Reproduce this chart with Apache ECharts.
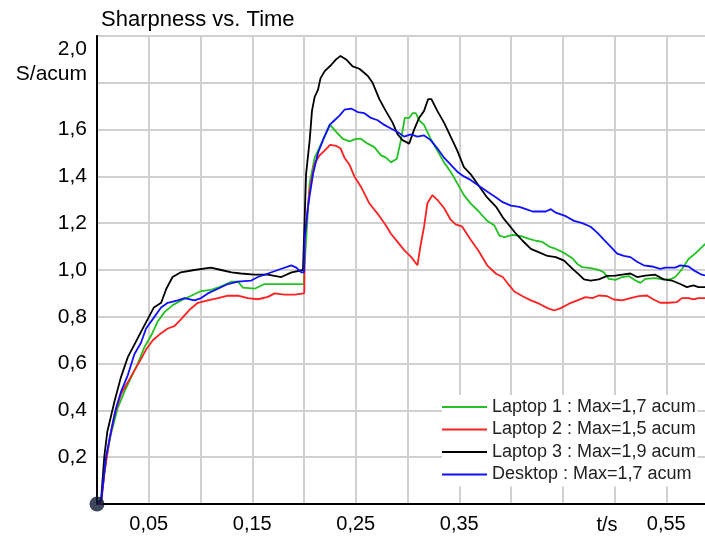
<!DOCTYPE html>
<html>
<head>
<meta charset="utf-8">
<script src="https://cdn.jsdelivr.net/npm/echarts@6/dist/echarts.min.js"></script>
<style>
  html, body { margin: 0; padding: 0; background: #fff; }
  #main { width: 705px; height: 536px; }
</style>
</head>
<body>
<div id="main"></div>
<script>
// tick labels shown on the axes
var xLabelValues = [0.05, 0.15, 0.25, 0.35, 0.55];
var yLabelValues = [0.2, 0.4, 0.6, 0.8, 1.0, 1.2, 1.4, 1.6];

var seriesNames = [
  'Laptop 1 : Max=1,7 acum',
  'Laptop 2 : Max=1,5 acum',
  'Laptop 3 : Max=1,9 acum',
  'Desktop : Max=1,7 acum'
];

// [t (s), sharpness (acum)]
var laptop1 = [
  [0, 0], [0.004, 0.014], [0.0087, 0.19], [0.0135, 0.30], [0.02, 0.41], [0.0265, 0.48],
  [0.0329, 0.54], [0.0394, 0.60], [0.0458, 0.67], [0.0523, 0.72], [0.0587, 0.78],
  [0.0652, 0.82], [0.0732, 0.85], [0.0813, 0.87], [0.091, 0.89], [0.1006, 0.91],
  [0.1103, 0.915], [0.12, 0.93], [0.1297, 0.95], [0.1361, 0.95], [0.141, 0.925],
  [0.1523, 0.92], [0.1619, 0.94], [0.1748, 0.94], [0.2, 0.94],
  [0.2003, 1.0], [0.2054, 1.37], [0.2103, 1.48], [0.2151, 1.525], [0.2199, 1.57],
  [0.2253, 1.62], [0.2311, 1.59], [0.2375, 1.56], [0.2439, 1.55], [0.2503, 1.56],
  [0.2551, 1.56], [0.2615, 1.54], [0.2679, 1.525], [0.2744, 1.49], [0.2792, 1.48],
  [0.284, 1.46], [0.2897, 1.475], [0.2936, 1.555], [0.2974, 1.65], [0.3016, 1.65],
  [0.3048, 1.67], [0.308, 1.67], [0.3112, 1.64], [0.316, 1.62], [0.3224, 1.56],
  [0.3288, 1.51], [0.3353, 1.46], [0.3417, 1.42], [0.3481, 1.37], [0.3545, 1.32],
  [0.3609, 1.285], [0.3689, 1.25], [0.3769, 1.21], [0.384, 1.19], [0.3888, 1.147],
  [0.3936, 1.14], [0.4016, 1.15], [0.4096, 1.145], [0.4176, 1.133], [0.424, 1.125],
  [0.4304, 1.12], [0.4369, 1.10], [0.4433, 1.09], [0.4513, 1.073], [0.4593, 1.05],
  [0.4641, 1.026], [0.4689, 1.012], [0.4769, 1.008], [0.4849, 1.0], [0.4897, 0.99],
  [0.4945, 0.962], [0.501, 0.958], [0.5074, 0.97], [0.5138, 0.974], [0.5202, 0.955],
  [0.525, 0.945], [0.5298, 0.962], [0.5394, 0.965], [0.5458, 0.96], [0.5538, 0.96],
  [0.5587, 0.97], [0.5651, 1.003], [0.5715, 1.047], [0.5779, 1.07], [0.5859, 1.104],
  [0.59, 1.12]
];

var laptop2 = [
  [0, 0], [0.004, 0.0], [0.0071, 0.13], [0.0119, 0.27], [0.0168, 0.38], [0.0232, 0.47],
  [0.0297, 0.52], [0.0361, 0.57], [0.0426, 0.62], [0.0474, 0.66], [0.0539, 0.70],
  [0.0619, 0.73], [0.0684, 0.75], [0.0748, 0.76], [0.0813, 0.79], [0.0894, 0.83],
  [0.0974, 0.86], [0.1071, 0.87], [0.1168, 0.88], [0.1265, 0.89], [0.1361, 0.89],
  [0.1458, 0.88], [0.1555, 0.875], [0.1652, 0.885], [0.1716, 0.90], [0.1813, 0.895],
  [0.191, 0.895], [0.2, 0.90],
  [0.2003, 0.91], [0.2006, 1.13], [0.2054, 1.34], [0.2103, 1.455], [0.2151, 1.49],
  [0.2199, 1.51], [0.2253, 1.535], [0.2311, 1.53], [0.2353, 1.52], [0.2391, 1.48],
  [0.2439, 1.45], [0.2487, 1.40], [0.2551, 1.355], [0.2631, 1.285], [0.2712, 1.24],
  [0.2792, 1.19], [0.284, 1.155], [0.2904, 1.12], [0.2968, 1.085], [0.3032, 1.057],
  [0.3096, 1.02], [0.3128, 1.11], [0.316, 1.185], [0.3192, 1.285], [0.324, 1.32],
  [0.3288, 1.30], [0.3353, 1.265], [0.3417, 1.215], [0.3465, 1.195], [0.3529, 1.185],
  [0.3609, 1.13], [0.3689, 1.08], [0.3769, 1.02], [0.3856, 0.984], [0.392, 0.97],
  [0.3984, 0.934], [0.4032, 0.908], [0.4112, 0.888], [0.4192, 0.87], [0.4272, 0.856],
  [0.4353, 0.837], [0.4417, 0.827], [0.4481, 0.837], [0.4561, 0.856], [0.4641, 0.87],
  [0.4721, 0.884], [0.4785, 0.88], [0.4849, 0.891], [0.4929, 0.888], [0.4994, 0.874],
  [0.5074, 0.87], [0.5154, 0.88], [0.5234, 0.888], [0.5314, 0.891], [0.5378, 0.874],
  [0.5442, 0.86], [0.5522, 0.86], [0.5603, 0.863], [0.5651, 0.88], [0.5715, 0.88],
  [0.5763, 0.874], [0.5811, 0.88], [0.59, 0.88]
];

var laptop3 = [
  [0, 0], [0.004, 0.02], [0.007, 0.20], [0.010, 0.31], [0.017, 0.44], [0.023, 0.54],
  [0.030, 0.63], [0.036, 0.68], [0.043, 0.74], [0.049, 0.79], [0.055, 0.84],
  [0.062, 0.86], [0.067, 0.92], [0.073, 0.97], [0.081, 0.99], [0.094, 1.00],
  [0.110, 1.01], [0.120, 1.00], [0.130, 0.99], [0.139, 0.985], [0.152, 0.98],
  [0.165, 0.98], [0.178, 0.97], [0.188, 0.99], [0.199, 1.00],
  [0.2005, 1.2], [0.202, 1.41], [0.2055, 1.555], [0.2077, 1.68], [0.2103, 1.74],
  [0.2135, 1.77], [0.216, 1.82], [0.220, 1.85], [0.226, 1.875], [0.231, 1.90],
  [0.2353, 1.915], [0.2407, 1.90], [0.247, 1.87], [0.2535, 1.86], [0.2615, 1.83],
  [0.2663, 1.80], [0.2728, 1.73], [0.279, 1.68], [0.2856, 1.63], [0.2904, 1.58],
  [0.2952, 1.555], [0.3016, 1.54], [0.3064, 1.60], [0.3112, 1.65], [0.316, 1.68],
  [0.3199, 1.73], [0.3231, 1.73], [0.3288, 1.68], [0.3353, 1.63], [0.3417, 1.57],
  [0.3481, 1.51], [0.3545, 1.44], [0.3609, 1.41], [0.3689, 1.36], [0.3769, 1.31],
  [0.3856, 1.27], [0.392, 1.225], [0.3984, 1.19], [0.4048, 1.155], [0.4112, 1.125],
  [0.4192, 1.09], [0.4272, 1.075], [0.4353, 1.06], [0.4433, 1.055], [0.4513, 1.04],
  [0.4593, 1.006], [0.4657, 0.98], [0.4705, 0.96], [0.4769, 0.955], [0.4849, 0.96],
  [0.4929, 0.975], [0.5010, 0.976], [0.5074, 0.98], [0.5154, 0.985], [0.5218, 0.97],
  [0.5298, 0.976], [0.5394, 0.98], [0.5474, 0.96], [0.5554, 0.955], [0.5635, 0.94],
  [0.5699, 0.927], [0.5763, 0.934], [0.5811, 0.927], [0.59, 0.927]
];

var desktop = [
  [0, 0], [0.004, 0.014], [0.0087, 0.20], [0.0135, 0.31], [0.0184, 0.41], [0.0232, 0.48],
  [0.0297, 0.55], [0.0361, 0.64], [0.0426, 0.69], [0.0474, 0.75], [0.0539, 0.79],
  [0.0619, 0.84], [0.0684, 0.86], [0.0781, 0.87], [0.0845, 0.88], [0.0942, 0.87],
  [0.1006, 0.88], [0.1071, 0.90], [0.1168, 0.92], [0.1265, 0.94], [0.1361, 0.95],
  [0.149, 0.955], [0.1555, 0.97], [0.1652, 0.985], [0.1748, 1.0], [0.1877, 1.02],
  [0.1926, 1.01], [0.1974, 0.99], [0.2, 0.99],
  [0.2006, 1.13], [0.2038, 1.27], [0.2087, 1.41], [0.2135, 1.50], [0.2183, 1.555],
  [0.2247, 1.62], [0.2295, 1.64], [0.2343, 1.66], [0.2391, 1.685], [0.2455, 1.69],
  [0.2519, 1.675], [0.2583, 1.67], [0.2647, 1.65], [0.2712, 1.64], [0.2776, 1.62],
  [0.284, 1.605], [0.2904, 1.59], [0.2968, 1.57], [0.3032, 1.58], [0.3096, 1.57],
  [0.316, 1.575], [0.3224, 1.555], [0.3288, 1.52], [0.3353, 1.48], [0.3417, 1.45],
  [0.3481, 1.42], [0.3545, 1.40], [0.3609, 1.385], [0.3689, 1.36], [0.3769, 1.335],
  [0.3856, 1.31], [0.392, 1.29], [0.4, 1.275], [0.408, 1.27], [0.4144, 1.26],
  [0.4208, 1.25], [0.4337, 1.25], [0.4385, 1.26], [0.4433, 1.245], [0.4529, 1.23],
  [0.4609, 1.21], [0.4689, 1.20], [0.4769, 1.185], [0.4833, 1.16], [0.4897, 1.13],
  [0.4962, 1.10], [0.5026, 1.07], [0.509, 1.06], [0.5154, 1.055], [0.5218, 1.035],
  [0.5282, 1.02], [0.5362, 1.015], [0.5442, 1.005], [0.549, 1.01], [0.5587, 1.01],
  [0.5635, 1.02], [0.5715, 1.015], [0.5779, 0.995], [0.5843, 0.98], [0.59, 0.975]
];

var seriesColors = ['#22c222', '#ff2020', '#000000', '#1010ff'];
var font = '"Liberation Sans", Arial, sans-serif';

function fmtComma(v, digits) {
  return v.toFixed(digits).replace('.', ',');
}
function hasValue(list, v) {
  for (var i = 0; i < list.length; i++) {
    if (Math.abs(list[i] - v) < 1e-6) return true;
  }
  return false;
}

var chart = echarts.init(document.getElementById('main'), null, { renderer: 'canvas' });

var lineData = [laptop1, laptop2, laptop3, desktop];
var series = lineData.map(function (d, i) {
  return {
    name: seriesNames[i],
    type: 'line',
    data: d,
    showSymbol: false,
    symbol: 'none',
    lineStyle: { width: 1.8, color: seriesColors[i] },
    itemStyle: { color: seriesColors[i] },
    animation: false
  };
});
// dot at the origin
series.push({
  type: 'scatter',
  data: [[0, 0]],
  symbolSize: 15,
  clip: false,
  itemStyle: { color: '#0c1a33' },
  z: 10,
  silent: true,
  animation: false
});

var option = {
  backgroundColor: '#fff',
  animation: false,
  title: {
    text: 'Sharpness vs. Time',
    left: 101,
    top: 9,
    padding: 0,
    textStyle: { fontFamily: font, fontSize: 22, fontWeight: 'normal', color: '#000' }
  },
  grid: {
    left: 97,
    top: 36,
    width: 621,
    height: 468,
    containLabel: false,
    outerBoundsMode: 'none',
    show: true,
    borderColor: '#000',
    borderWidth: 1.5
  },
  legend: {
    orient: 'vertical',
    left: 442,
    top: 395,
    padding: [3, 2, 3, 0],
    backgroundColor: '#fff',
    icon: 'rect',
    itemWidth: 45,
    itemHeight: 2,
    itemGap: 4.5,
    data: seriesNames,
    textStyle: { fontFamily: font, fontSize: 18, color: '#222' }
  },
  xAxis: {
    type: 'value',
    min: 0,
    max: 0.6,
    interval: 0.05,
    axisLine: { lineStyle: { color: '#000', width: 2 } },
    axisTick: { show: false },
    splitLine: { lineStyle: { color: '#d0d0d0', width: 2 } },
    axisLabel: {
      margin: 10,
      fontFamily: font,
      fontSize: 20,
      color: '#000',
      formatter: function (v) {
        return hasValue(xLabelValues, v) ? fmtComma(v, 2) : '';
      }
    }
  },
  yAxis: {
    type: 'value',
    min: 0,
    max: 2,
    interval: 0.2,
    axisLine: { show: true, lineStyle: { color: '#000', width: 2 } },
    axisTick: { show: false },
    splitLine: { lineStyle: { color: '#d0d0d0', width: 2 } },
    axisLabel: {
      margin: 10,
      fontFamily: font,
      fontSize: 21,
      color: '#000',
      formatter: function (v) {
        return hasValue(yLabelValues, v) ? fmtComma(v, 1) : '';
      }
    }
  },
  graphic: [
    { type: 'text', x: 87, y: 49, style: { text: '2,0', font: '21px ' + font, fill: '#000', textAlign: 'right', textVerticalAlign: 'middle' } },
    { type: 'text', x: 87, y: 74, style: { text: 'S/acum', font: '21px ' + font, fill: '#000', textAlign: 'right', textVerticalAlign: 'middle' } },
    { type: 'text', x: 607, y: 525, style: { text: 't/s', font: '20px ' + font, fill: '#000', textAlign: 'center', textVerticalAlign: 'middle' } }
  ],
  series: series
};

chart.setOption(option);
</script>
</body>
</html>
